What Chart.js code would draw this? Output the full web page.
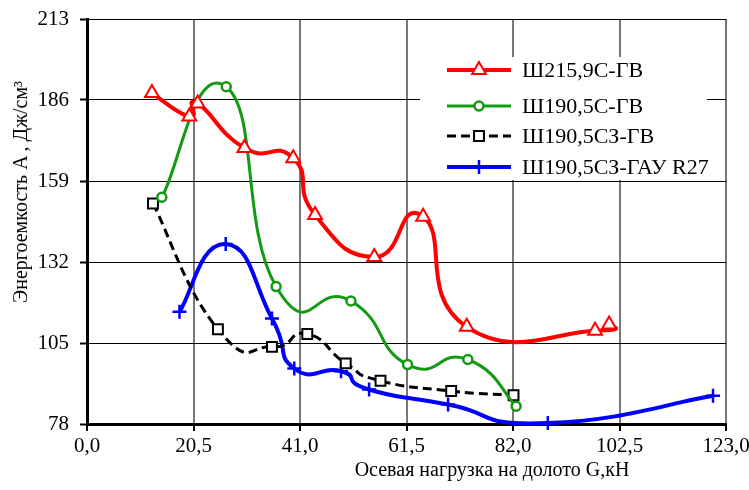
<!DOCTYPE html>
<html>
<head>
<meta charset="utf-8">
<script src="https://cdn.jsdelivr.net/npm/chart.js@4.4.0/dist/chart.umd.min.js"></script>
<style>
  html, body { margin: 0; padding: 0; background: #fff; }
  #wrap { position: relative; width: 749px; height: 490px; font-family: 'Liberation Serif'; color: #000; }
  #grafico { position: absolute; left: 0; top: 0; }
  .titulo { position: absolute; font-size: 20px; line-height: 20px; white-space: nowrap; }
  #tx { left: 492px; top: 459px; transform: translateX(-50%); }
  #ty { left: 20px; top: 192px; transform: translate(-50%, -50%) rotate(-90deg); }
</style>
</head>
<body>
<div id="wrap">
  <canvas id="grafico" width="749" height="490"></canvas>
  <div class="titulo" id="tx"></div>
  <div class="titulo" id="ty"></div>
</div>
<script>
// данные
const redX = [12.5, 19.7, 21.3, 30.3, 39.7, 43.9, 55.3, 64.7, 73.1, 97.8, 100.5];
const redY = [188.3, 180.5, 184.8, 170.0, 166.6, 147.7, 133.7, 147.1, 110.4, 109.1, 111.2];

const greenX = [14.4, 26.8, 36.4, 50.8, 61.7, 73.3, 82.6];
const greenY = [153.6, 190.4, 123.8, 119.0, 97.8, 99.5, 83.9];

const blackX = [12.7, 25.2, 35.6, 42.4, 49.8, 56.5, 70.1, 82.1];
const blackY = [151.5, 109.6, 103.7, 108.0, 98.2, 92.4, 89.0, 87.6];

const blueX = [17.8, 26.7, 35.6, 39.9, 48.9, 54.3, 69.5, 88.7, 120.5];
const blueY = [115.4, 138.0, 113.2, 96.5, 95.6, 89.5, 84.5, 78.3, 87.4];

const xTicks = [0, 20.5, 41, 61.5, 82, 102.5, 123];

const seriesNames = ['Ш215,9С-ГВ', 'Ш190,5С-ГВ', 'Ш190,5СЗ-ГВ', 'Ш190,5СЗ-ГАУ R27'];

const xTitle = 'Осевая нагрузка на долото G,кН';
const yTitle = 'Энергоемкость A , Дж/см³';

const FONT = 'Liberation Serif';

// подписи осей - обычным текстом
document.getElementById('tx').textContent = xTitle;
document.getElementById('ty').textContent = yTitle;
document.getElementById('tx').offsetWidth;

function puntos(xs, ys) {
    return xs.map((x, i) => ({ x: x, y: ys[i] }));
}

// сглаживание как в Excel (касательная по соседним точкам)
const k = 0.28;
const suavizado = {
    id: 'suavizado',
    beforeDatasetsDraw(chart) {
        chart.data.datasets.forEach((ds, i) => {
            const meta = chart.getDatasetMeta(i);
            const pts = meta.data;
            pts.forEach((p, j) => {
                const prev = pts[j - 1] || p;
                const next = pts[j + 1] || p;
                const dx = next.x - prev.x;
                const dy = next.y - prev.y;
                p.cp1x = p.x - k * dx;
                p.cp1y = p.y - k * dy;
                p.cp2x = p.x + k * dx;
                p.cp2y = p.y + k * dy;
            });
            meta.dataset._pointsUpdated = true;
            meta.dataset._path = undefined;
        });
    }
};

// легенда
const leyenda = {
    id: 'leyenda',
    afterDraw(chart) {
        const ctx = chart.ctx;
        ctx.save();
        ctx.fillStyle = '#fff';
        ctx.fillRect(420, 57, 287, 123);

        const rows = [70, 106, 136, 167];
        chart.data.datasets.forEach((ds, i) => {
            const y = rows[i];
            ctx.strokeStyle = ds.borderColor;
            ctx.lineWidth = ds.borderWidth;
            ctx.setLineDash(ds.borderDash || []);
            ctx.beginPath();
            ctx.moveTo(447, y);
            ctx.lineTo(511, y);
            ctx.stroke();
            ctx.setLineDash([]);
            ctx.fillStyle = '#fff';
            ctx.strokeStyle = ds.borderColor;
            ctx.lineWidth = ds.pointBorderWidth;
            Chart.helpers.drawPoint(ctx, {
                pointStyle: ds.pointStyle,
                radius: ds.pointRadius,
                borderWidth: ds.pointBorderWidth,
                rotation: 0
            }, 479, y);
            ctx.fillStyle = '#000';
            ctx.font = "22px 'Liberation Serif'";
            ctx.textAlign = 'left';
            ctx.textBaseline = 'middle';
            ctx.fillText(ds.label, 522, y + 1);
        });
        ctx.restore();
    }
};

function dataset(label, xs, ys, color, style, radius, width, pw, dash) {
    return {
        label: label,
        data: puntos(xs, ys),
        borderColor: color,
        backgroundColor: '#fff',
        borderWidth: width,
        borderDash: dash,
        pointStyle: style,
        pointRadius: radius,
        pointBorderWidth: pw,
        pointBackgroundColor: '#fff',
        pointBorderColor: color,
        tension: 0.4,
        fill: false,
        clip: false
    };
}

const ctx = document.getElementById('grafico').getContext('2d');
window.grafico = new Chart(ctx, {
    type: 'line',
    data: {
        datasets: [
            dataset(seriesNames[0], redX, redY, '#ff0000', 'triangle', 8, 4, 2, []),
            dataset(seriesNames[1], greenX, greenY, '#129a12', 'circle', 4.5, 3, 2.5, []),
            dataset(seriesNames[2], blackX, blackY, '#000000', 'rect', 7, 3, 2, [9, 5]),
            dataset(seriesNames[3], blueX, blueY, '#0000ff', 'cross', 7, 4, 2.5, [])
        ]
    },
    options: {
        responsive: false,
        animation: false,
        layout: { padding: { top: 19, right: 23, left: 0, bottom: 0 } },
        plugins: {
            legend: { display: false },
            tooltip: { enabled: false }
        },
        scales: {
            x: {
                type: 'linear',
                min: 0,
                max: 123,
                afterBuildTicks: (scale) => {
                    scale.ticks = xTicks.map(v => ({ value: v }));
                },
                afterFit: (scale) => {
                    scale.height = 66;
                    scale.paddingLeft = 0;
                    scale.paddingRight = 0;
                },
                ticks: {
                    color: '#000',
                    font: { family: FONT, size: 21 },
                    padding: 3,
                    maxRotation: 0,
                    autoSkip: false,
                    callback: v => v.toFixed(1).replace('.', ',')
                },
                grid: { color: '#777', lineWidth: 2, tickLength: 7, tickColor: '#000', tickWidth: 2 },
                border: { color: '#000', width: 3 }
            },
            y: {
                min: 78,
                max: 213,
                afterFit: (scale) => {
                    scale.width = 87;
                    scale.paddingTop = 0;
                    scale.paddingBottom = 0;
                },
                ticks: {
                    stepSize: 27,
                    color: '#000',
                    font: { family: FONT, size: 21 },
                    padding: 11
                },
                grid: { color: '#000', lineWidth: 1, tickLength: 7, tickColor: '#000', tickWidth: 2 },
                border: { color: '#000', width: 3 }
            }
        }
    },
    plugins: [suavizado, leyenda]
});

// перерисовать, когда шрифт готов
requestAnimationFrame(() => window.grafico.update());
document.fonts.load("21px 'Liberation Serif'").then(() => window.grafico.update());
</script>
</body>
</html>
